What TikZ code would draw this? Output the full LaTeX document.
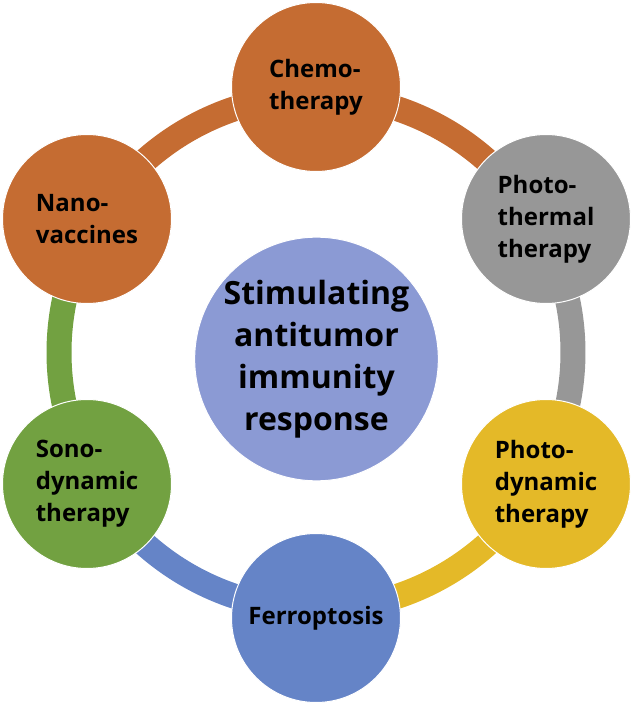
\documentclass[tikz,border=0pt]{standalone}
\usepackage{fontspec}
\setmainfont{Open Sans}
\usepackage{tikz}

\definecolor{chemoorange}{RGB}{197,108,50}
\definecolor{thermalgray}{RGB}{151,151,151}
\definecolor{dynamicyellow}{RGB}{228,185,40}
\definecolor{ferroblue}{RGB}{101,132,199}
\definecolor{sonogreen}{RGB}{114,161,65}
\definecolor{hublavender}{RGB}{139,154,212}

\begin{document}
\begin{tikzpicture}[x=1pt,y=1pt,
		ring/.style={line width=25pt},
		therapy/.style={circle,draw=white,line width=1pt,minimum size=169pt,inner sep=0pt,
			align=left,text=black,font=\fontsize{24}{32}\selectfont\bfseries},
		hubnode/.style={circle,draw=white,line width=1pt,minimum size=236pt,inner sep=0pt,
			align=center,text=black,font=\fontsize{32}{42}\selectfont\bfseries}]
			\useasboundingbox (0,0) rectangle (633,705);
			
			\coordinate (hub) at (316,352.5);
			
			% ring segments
			\draw[ring,chemoorange] ([shift={(90:257)}]hub) arc[start angle=90,end angle=30,radius=257];
			\draw[ring,thermalgray] ([shift={(30:257)}]hub) arc[start angle=30,end angle=-30,radius=257];
			\draw[ring,dynamicyellow] ([shift={(-30:257)}]hub) arc[start angle=-30,end angle=-90,radius=257];
			\draw[ring,ferroblue] ([shift={(-90:257)}]hub) arc[start angle=-90,end angle=-150,radius=257];
			\draw[ring,sonogreen] ([shift={(210:257)}]hub) arc[start angle=210,end angle=150,radius=257];
			\draw[ring,chemoorange] ([shift={(150:257)}]hub) arc[start angle=150,end angle=90,radius=257];
			
			% therapies
			\node[therapy,fill=chemoorange] (chemo) at (316,618) {Chemo-\\therapy};
			\node[therapy,fill=thermalgray] (thermal) at (546,486) {Photo-\\thermal\\therapy};
			\node[therapy,fill=dynamicyellow] (photodyn) at (546,221) {Photo-\\dynamic\\therapy};
			\node[therapy,fill=ferroblue] (ferro) at (316,87) {Ferroptosis};
			\node[therapy,fill=sonogreen] (sono) at (87,221) {Sono-\\dynamic\\therapy};
			\node[therapy,fill=chemoorange] (nano) at (87,486) {Nano-\\vaccines};
			
			\node[hubnode,fill=hublavender] (immunity) at (316.5,346) {Stimulating\\antitumor\\immunity\\response};
			
		\end{tikzpicture}
\end{document}
